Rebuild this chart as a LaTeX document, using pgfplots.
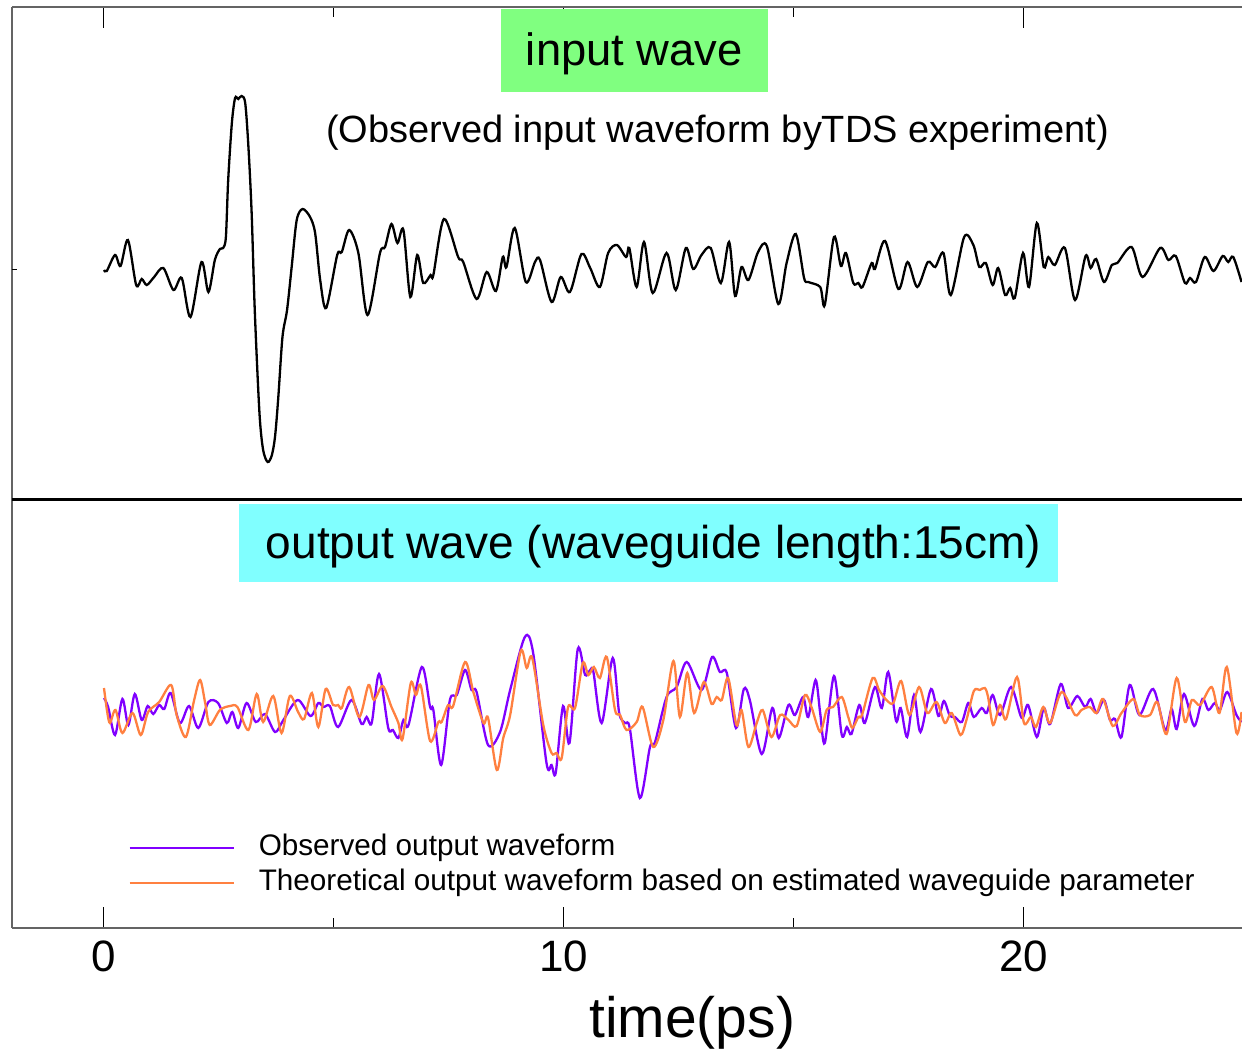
\documentclass[border=0pt]{standalone}
\usepackage{pgfplots}
\usepackage{pgfplotstable}
\pgfplotsset{compat=1.18}
\usepackage{fontspec}
\setmainfont{Liberation Sans}
\definecolor{obs}{RGB}{128,0,255}
\definecolor{theo}{RGB}{255,128,64}
\definecolor{boxgreen}{RGB}{128,255,128}
\definecolor{boxcyan}{RGB}{128,255,255}
\definecolor{axisgray}{RGB}{100,100,100}

\pgfplotstableread{
t a
0.00 0.00
0.06 -0.01
0.24 0.15
0.36 0.04
0.52 0.30
0.70 -0.15
0.82 -0.09
0.93 -0.15
1.09 -0.07
1.29 0.02
1.51 -0.20
1.69 -0.08
1.88 -0.47
2.12 0.08
2.27 -0.22
2.41 0.10
2.52 0.21
2.59 0.22
2.65 0.33
2.70 0.90
2.78 1.47
2.85 1.72
2.92 1.71
2.99 1.74
3.07 1.67
3.14 1.23
3.21 0.57
3.28 -0.43
3.38 -1.43
3.46 -1.80
3.56 -1.92
3.65 -1.85
3.72 -1.66
3.79 -1.27
3.88 -0.67
3.98 -0.40
4.08 0.03
4.19 0.50
4.32 0.61
4.48 0.53
4.59 0.37
4.70 -0.10
4.83 -0.38
5.07 0.15
5.17 0.18
5.33 0.40
5.53 0.17
5.73 -0.45
6.00 0.17
6.11 0.23
6.25 0.46
6.38 0.27
6.51 0.40
6.66 -0.27
6.81 0.15
6.94 -0.13
7.10 -0.05
7.16 -0.05
7.39 0.51
7.70 0.13
7.81 0.08
8.10 -0.29
8.32 -0.02
8.52 -0.21
8.67 0.13
8.75 0.03
8.93 0.42
9.17 -0.12
9.37 0.08
9.48 0.10
9.73 -0.32
9.93 -0.07
10.13 -0.22
10.38 0.16
10.57 0.02
10.78 -0.17
10.96 0.17
11.15 0.25
11.35 0.13
11.42 0.22
11.58 -0.17
11.74 0.28
11.93 -0.23
12.23 0.17
12.43 -0.20
12.65 0.22
12.81 0.01
12.99 0.15
13.19 0.22
13.41 -0.13
13.59 0.28
13.72 -0.26
13.86 0.03
14.01 -0.10
14.22 0.18
14.41 0.24
14.66 -0.34
14.84 0.07
15.04 0.36
15.22 -0.08
15.31 -0.12
15.57 -0.17
15.67 -0.35
15.87 0.33
16.02 0.04
16.13 0.17
16.29 -0.13
16.40 -0.13
16.49 -0.17
16.69 0.07
16.76 0.01
16.98 0.29
17.27 -0.19
17.47 0.08
17.68 -0.17
17.91 0.08
18.07 0.03
18.25 0.17
18.41 -0.25
18.70 0.33
18.90 0.25
19.03 0.03
19.17 0.07
19.32 -0.15
19.44 0.02
19.59 -0.25
19.70 -0.18
19.80 -0.28
19.98 0.17
20.11 -0.17
20.28 0.47
20.43 0.03
20.53 0.13
20.67 0.05
20.89 0.22
21.11 -0.30
21.34 0.14
21.45 0.02
21.57 0.11
21.74 -0.12
21.91 0.05
22.03 0.07
22.34 0.23
22.58 -0.07
22.96 0.22
23.14 0.10
23.30 0.14
23.50 -0.13
23.61 -0.08
23.74 -0.12
23.93 0.13
24.12 -0.01
24.32 0.14
24.44 0.08
24.55 0.13
24.73 -0.12
}\inputwave

\pgfplotstableread{
t a
0.00 0.12
0.09 0.03
0.24 -0.25
0.40 0.11
0.53 -0.15
0.67 0.16
0.82 -0.10
0.95 0.04
1.07 -0.04
1.20 0.05
1.31 0.01
1.45 0.17
1.65 -0.13
1.85 0.04
2.05 -0.18
2.27 0.08
2.48 0.07
2.67 -0.13
2.79 -0.02
2.92 -0.18
3.10 0.07
3.30 -0.12
3.50 -0.04
3.72 -0.22
3.90 -0.10
4.21 0.10
4.49 -0.06
4.66 0.07
4.77 0.03
4.91 0.04
5.09 -0.17
5.38 0.10
5.60 -0.14
5.71 -0.07
5.82 -0.13
5.98 0.36
6.18 -0.18
6.28 -0.20
6.40 -0.28
6.51 -0.10
6.62 -0.15
6.91 0.43
7.09 0.03
7.16 0.00
7.33 -0.55
7.52 0.10
7.67 0.15
7.85 0.40
7.99 0.20
8.10 0.18
8.35 -0.35
8.61 -0.22
8.83 0.20
9.15 0.73
9.33 0.57
9.62 -0.53
9.73 -0.55
9.82 -0.63
9.98 0.04
10.12 -0.33
10.30 0.61
10.46 0.35
10.57 0.40
10.64 0.38
10.82 -0.13
11.06 0.52
11.20 -0.03
11.33 -0.13
11.43 -0.18
11.65 -0.88
11.87 -0.37
11.98 -0.32
12.23 0.13
12.45 0.23
12.67 0.48
12.99 0.20
13.22 0.53
13.39 0.38
13.54 0.37
13.74 -0.18
13.91 0.21
14.04 0.10
14.30 -0.44
14.53 0.02
14.67 -0.28
14.88 0.05
15.02 -0.05
15.20 0.13
15.31 -0.07
15.47 0.30
15.57 -0.03
15.67 -0.33
15.87 0.34
16.04 -0.25
16.15 -0.17
16.25 -0.24
16.42 0.05
16.54 -0.13
16.76 0.23
16.91 0.02
17.05 0.38
17.22 -0.11
17.32 0.02
17.46 -0.27
17.61 0.15
17.75 -0.22
17.98 0.21
18.14 -0.06
18.26 0.09
18.39 -0.06
18.50 -0.07
18.65 -0.12
18.79 0.07
18.91 -0.07
19.08 0.02
19.19 -0.03
19.32 0.15
19.48 -0.05
19.72 0.23
19.95 -0.08
20.09 0.05
20.28 -0.27
20.43 0.02
20.57 -0.14
20.80 0.26
20.96 0.02
21.16 0.14
21.33 0.03
21.45 0.11
21.58 -0.03
21.74 0.10
21.87 -0.10
21.98 -0.09
22.12 -0.27
22.30 0.25
22.51 -0.05
22.81 0.21
23.07 -0.20
23.21 0.01
23.32 -0.19
23.48 0.16
23.70 -0.16
23.88 0.11
24.01 0.00
24.15 0.07
24.26 0.00
24.42 0.18
24.62 -0.05
24.73 -0.12
}\observed

\pgfplotstableread{
t a
0.00 0.22
0.07 -0.02
0.13 -0.13
0.25 0.00
0.40 -0.23
0.62 -0.03
0.80 -0.25
0.96 -0.02
1.20 0.08
1.46 0.25
1.58 -0.05
1.78 -0.27
1.96 0.10
2.09 0.30
2.20 0.07
2.30 -0.15
2.52 0.00
2.74 0.04
2.90 0.03
3.14 -0.20
3.32 0.16
3.46 -0.12
3.68 0.14
3.86 -0.23
4.04 0.14
4.22 -0.02
4.35 -0.09
4.52 0.17
4.66 -0.17
4.82 0.21
4.98 0.05
5.09 0.05
5.17 0.02
5.33 0.23
5.55 -0.07
5.75 0.25
5.87 0.10
6.06 0.24
6.25 0.03
6.40 -0.13
6.49 -0.29
6.67 0.27
6.78 0.15
6.89 0.24
7.09 -0.31
7.27 -0.12
7.34 -0.12
7.48 0.05
7.59 0.04
7.85 0.48
8.03 0.18
8.25 -0.13
8.35 -0.08
8.54 -0.60
8.68 -0.28
8.83 -0.05
9.06 0.59
9.19 0.42
9.31 0.52
9.55 -0.15
9.73 -0.43
9.84 -0.43
9.95 -0.48
10.09 0.03
10.24 0.02
10.41 0.47
10.53 0.35
10.65 0.43
10.78 0.32
10.93 0.53
11.11 0.00
11.22 -0.05
11.36 -0.20
11.58 -0.12
11.71 0.03
11.94 -0.37
12.16 -0.10
12.38 0.49
12.52 -0.07
12.68 0.37
12.83 -0.03
13.04 0.28
13.21 0.06
13.32 0.13
13.43 0.10
13.57 0.32
13.75 -0.15
13.86 0.00
14.01 -0.37
14.19 -0.13
14.32 0.00
14.51 -0.27
14.70 -0.05
14.88 -0.10
15.06 -0.16
15.24 0.15
15.38 0.03
15.57 -0.22
15.71 0.00
15.85 0.03
16.04 0.13
16.18 -0.07
16.27 -0.18
16.40 -0.07
16.48 -0.05
16.71 0.32
16.85 0.20
17.01 0.10
17.16 0.07
17.33 0.29
17.51 -0.05
17.72 0.23
17.90 -0.03
18.10 0.08
18.28 -0.13
18.43 -0.03
18.62 -0.25
18.75 -0.10
18.91 0.19
19.04 0.20
19.15 0.22
19.22 0.13
19.33 -0.15
19.48 0.05
19.61 -0.09
19.85 0.33
20.00 -0.13
20.15 -0.07
20.26 -0.17
20.42 0.03
20.57 -0.13
20.82 0.18
21.11 -0.05
21.25 0.00
21.43 0.03
21.58 -0.03
21.72 0.11
21.93 -0.16
22.12 -0.03
22.38 0.11
22.52 -0.05
22.74 -0.05
22.90 0.08
23.10 -0.24
23.32 0.32
23.50 -0.12
23.65 0.10
23.83 0.05
24.08 0.23
24.25 -0.03
24.41 0.43
24.62 -0.23
24.73 -0.02
}\theoretical

\begin{document}
\begin{tikzpicture}
\begin{axis}[
  name=ax,
  scale only axis,
  width=123mm, height=92.1mm,
  xmin=-2, xmax=24.74, ymin=0, ymax=9.21,
  axis x line*=box, axis y line*=left,
  axis line style={axisgray, line width=0.15mm, -},
  xtick={0,10,20}, minor xtick={5,15},
  ytick=\empty,
  tick align=inside,
  major tick length=2.1mm, minor tick length=1.0mm,
  every tick/.style={black, line width=0.1mm},
  /pgf/number format/assume math mode=true,
  xticklabel style={font=\fontsize{12.5}{14}\selectfont},
  xlabel={time(ps)},
  every axis x label/.style={at={(axis description cs:0.553,-0.1032)}, anchor=center, font=\fontsize{16.2}{18}\selectfont},
  legend style={at={(axis cs:0.52,0.625)}, anchor=west, draw=none, fill=none, inner sep=0pt,
    font=\fontsize{8.45}{10}\selectfont, row sep=1.46pt,
    nodes={inner sep=0pt, text height=6.5pt, text depth=2pt}},
  legend cell align=left,
  legend image code/.code={\draw[#1, line width=0.2mm] (0mm,0mm) -- (10.4mm,0mm); \path (12.8mm,0mm);},
]
\addplot[black, line width=0.23mm, smooth, forget plot] table[x=t, y expr=\thisrow{a}+6.58] {\inputwave};
\addplot[obs, line width=0.23mm, smooth] table[x=t, y expr=\thisrow{a}+2.18] {\observed};
\addlegendentry{Observed output waveform}
\addplot[theo, line width=0.23mm, smooth] table[x=t, y expr=\thisrow{a}+2.18] {\theoretical};
\addlegendentry{Theoretical output waveform based on estimated waveguide parameter}

\draw[line width=0.3mm, black] (axis cs:-2,4.29) -- (axis cs:24.74,4.29);
\draw[black, line width=0.1mm] (axis cs:-2,6.58) -- ([xshift=0.5mm]axis cs:-2,6.58);

\node[fill=boxgreen, minimum width=26.7mm, minimum height=8.3mm, inner sep=0pt] at (axis cs:11.53,8.775) {};
\node[font=\fontsize{12.9}{15}\selectfont] at (axis cs:11.53,8.745) {input wave};
\node[font=\fontsize{10.8}{13}\selectfont] at (axis cs:13.34,7.95) {(Observed input waveform byTDS experiment)};
\node[fill=boxcyan, minimum width=81.9mm, minimum height=7.8mm, inner sep=0pt] at (axis cs:11.84,3.85) {};
\node[font=\fontsize{13.1}{15}\selectfont] at (axis cs:11.95,3.81) {output wave (waveguide length:15cm)};
\end{axis}
\pgfresetboundingbox
\path[use as bounding box] ([shift={(-1.2mm,-12.4mm)}]ax.south west) rectangle ([shift={(0mm,0.7mm)}]ax.north east);
\end{tikzpicture}
\end{document}
